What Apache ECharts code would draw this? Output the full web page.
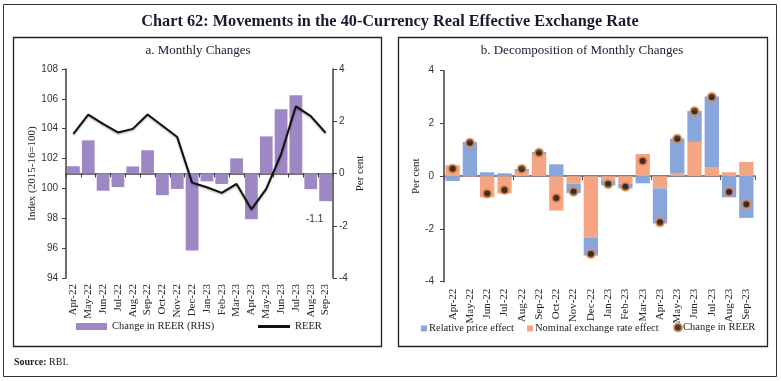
<!DOCTYPE html>
<html><head><meta charset="utf-8">
<script src="https://cdn.jsdelivr.net/npm/echarts@6/dist/echarts.min.js"></script>
<style>html,body{margin:0;padding:0;background:#fff}#c{width:781px;height:381px}</style>
</head><body><div id="c"></div>
<script>
const months = ['Apr-22','May-22','Jun-22','Jul-22','Aug-22','Sep-22','Oct-22','Nov-22','Dec-22','Jan-23','Feb-23','Mar-23','Apr-23','May-23','Jun-23','Jul-23','Aug-23','Sep-23'];
const reerIndex = [103.66,104.95,104.33,103.75,103.99,104.95,104.2,103.44,100.39,100.08,99.7,100.3,98.6,99.97,102.29,105.5,104.84,103.73];
const reerChange = [0.28,1.27,-0.66,-0.52,0.27,0.89,-0.83,-0.59,-2.95,-0.3,-0.4,0.58,-1.75,1.42,2.46,3.0,-0.6,-1.06];
const relativePrice = [-0.18,1.30,0.15,0.11,0.07,0.08,0.45,-0.36,-0.67,-0.19,-0.17,-0.27,-1.33,1.33,1.17,2.67,-0.8,-1.58];
const nominalRate = [0.42,-0.02,-0.80,-0.65,0.20,0.84,-1.30,-0.28,-2.34,-0.16,-0.29,0.84,-0.46,0.10,1.30,0.35,0.15,0.54];
const leftTicks = {min:94, max:108, interval:2};
const pctTicks = {min:-4, max:4, interval:2};
const lastLabel = '-1.1';

const SERIF = '"Liberation Serif", "DejaVu Serif", serif';
const SANS = '"Liberation Sans", "DejaVu Sans", sans-serif';
const AX = '#404040';

const chart = echarts.init(document.getElementById('c'), null, {renderer:'canvas'});

const barA = reerChange.map((v,i)=> i===reerChange.length-1 ? {value:v, label:{show:true, formatter:lastLabel, position:'bottom', offset:[-11,8], fontFamily:SANS, fontSize:10, color:'#333'}} : v);

function yAx(grid, t, pos, name, gap, margin){
  return {type:'value', gridIndex:grid, position:pos, min:t.min, max:t.max, interval:t.interval,
    axisLine:{show:true, onZero:false, lineStyle:{color:AX, width:1.5}},
    axisTick:{show:true, inside:false, length:4, lineStyle:{color:AX, width:1}},
    splitLine:{show:false},
    axisLabel:{fontFamily:SANS, fontSize:10, color:'#333', margin:margin},
    name:name, nameLocation:'middle', nameGap:gap,
    nameTextStyle:{fontFamily:SERIF, fontSize:11, color:'#222'}};
}
const legText = {fontFamily:SERIF, fontSize:10.5, color:'#222'};

const option = {
  animation:false,
  backgroundColor:'#fff',
  graphic:[
    {type:'rect', shape:{x:3.5,y:4.5,width:773,height:372}, style:{fill:null, stroke:'#333', lineWidth:1}},
    {type:'rect', shape:{x:13.5,y:37.5,width:368,height:309}, style:{fill:null, stroke:'#222', lineWidth:1.3}},
    {type:'rect', shape:{x:398.5,y:37.5,width:369,height:309}, style:{fill:null, stroke:'#222', lineWidth:1.3}},
    {type:'text', x:390, y:22, style:{text:'Chart 62: Movements in the 40-Currency Real Effective Exchange Rate', font:'bold 16.3px '+SERIF, fill:'#1a1a2e', align:'center', verticalAlign:'middle'}},
    {type:'text', x:198, y:51, style:{text:'a. Monthly Changes', font:'13px '+SERIF, fill:'#1a1a2e', align:'center', verticalAlign:'middle'}},
    {type:'text', x:582, y:51, style:{text:'b. Decomposition of Monthly Changes', font:'13px '+SERIF, fill:'#1a1a2e', align:'center', verticalAlign:'middle'}},
    {type:'text', x:14, y:362, style:{text:'{b|Source:} RBI.', rich:{b:{fontWeight:'bold', fontFamily:SERIF, fontSize:10, fill:'#222'}}, font:'10px '+SERIF, fill:'#222', verticalAlign:'middle'}}
  ],
  grid:[
    {left:66, right:448, top:69, bottom:103},
    {left:444, right:26, top:70.7, bottom:99.3}
  ],
  legend:[
    {data:['Change in REER (RHS)'], left:76, top:321, padding:0, icon:'rect', itemWidth:31, itemHeight:7, textStyle:legText},
    {data:[{name:'REER', icon:'rect'}], left:258, top:321, padding:0, itemWidth:32, itemHeight:3, textStyle:legText},
    {data:['Relative price effect'], left:421, top:323, padding:0, icon:'rect', itemWidth:6, itemHeight:6, textStyle:Object.assign({padding:[0,0,0,-3]}, legText)},
    {data:['Nominal exchange rate effect'], left:527, top:323, padding:0, icon:'rect', itemWidth:6, itemHeight:6, textStyle:Object.assign({padding:[0,0,0,-3]}, legText)},
    {data:['Change in REER'], left:673, top:322, padding:0, icon:'circle', itemWidth:8, itemHeight:8, textStyle:Object.assign({padding:[0,0,0,-4]}, legText)}
  ],
  xAxis:[
    {type:'category', gridIndex:0, data:months, boundaryGap:true,
      axisLine:{lineStyle:{color:AX, width:1.5}},
      axisTick:{show:true, length:4, lineStyle:{color:AX}},
      axisLabel:{rotate:90, interval:0, fontFamily:SERIF, fontSize:11, color:'#222', margin:6}},
    {type:'category', gridIndex:1, data:months, position:'bottom', boundaryGap:true,
      axisLine:{show:false, onZero:false}, axisTick:{show:false},
      axisLabel:{rotate:90, interval:0, fontFamily:SERIF, fontSize:11, color:'#222', margin:7}},
    {type:'category', gridIndex:1, data:months, position:'top', boundaryGap:true,
      axisLine:{show:true, onZero:true, lineStyle:{color:'#555', width:1.5}},
      axisTick:{show:true, inside:true, length:4, lineStyle:{color:'#555'}},
      axisLabel:{show:false}}
  ],
  yAxis:[
    yAx(0, leftTicks, 'left', 'Index (2015-16=100)', 28, 8),
    yAx(0, pctTicks, 'right', 'Per cent', 22, 6),
    yAx(1, pctTicks, 'left', 'Per cent', 20, 10)
  ],
  series:[
    {type:'bar', name:'Change in REER (RHS)', xAxisIndex:0, yAxisIndex:1, data:barA, barCategoryGap:'14%', itemStyle:{color:'#9d88c5'}},
    {type:'line', name:'REER', xAxisIndex:0, yAxisIndex:0, data:reerIndex, symbol:'none', itemStyle:{color:'#111'},
      lineStyle:{color:'#111', width:2, shadowColor:'rgba(0,0,0,0.35)', shadowBlur:2, shadowOffsetY:1}},
    {type:'bar', name:'Nominal exchange rate effect', xAxisIndex:1, yAxisIndex:2, stack:'d', data:nominalRate, barCategoryGap:'17%', itemStyle:{color:'#f6a584'}},
    {type:'bar', name:'Relative price effect', xAxisIndex:1, yAxisIndex:2, stack:'d', data:relativePrice, barCategoryGap:'17%', itemStyle:{color:'#88a5dc'}},
    {type:'scatter', name:'Change in REER', xAxisIndex:1, yAxisIndex:2, data:reerChange, symbolSize:8, z:5,
      itemStyle:{color:'#111', borderColor:'#f08a40', borderWidth:2}}
  ]
};
chart.setOption(option);
</script>
</body></html>
